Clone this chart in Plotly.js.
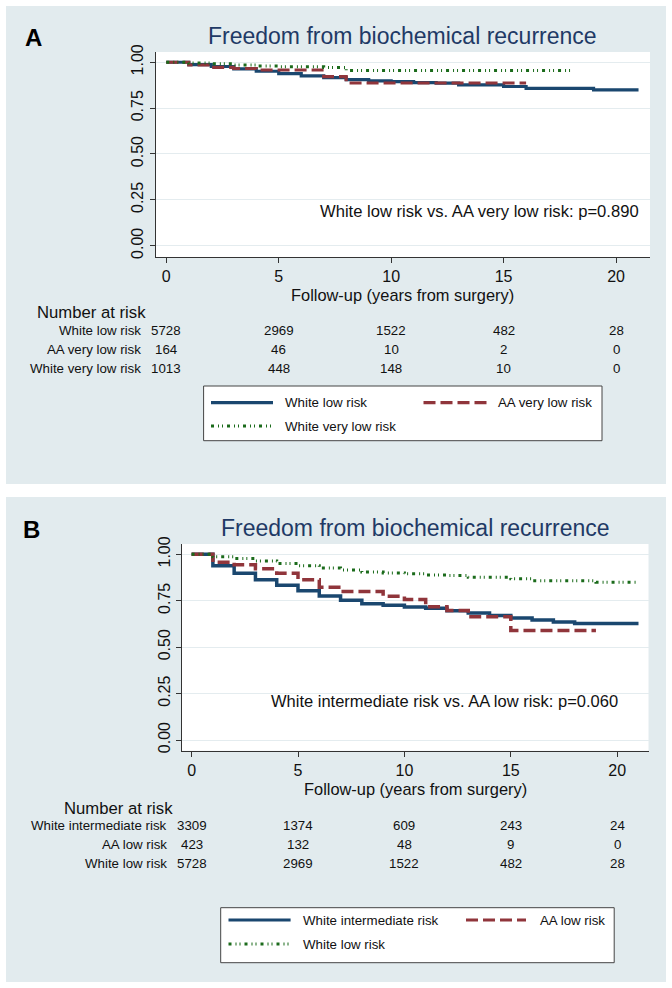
<!DOCTYPE html>
<html><head><meta charset="utf-8">
<script src="https://cdn.plot.ly/plotly-3.0.1.min.js"></script>
<style>html,body{margin:0;padding:0;background:#fff}</style>
</head><body><div id="chart" style="width:672px;height:988px"></div>
<script>
// ---------- Panel A data ----------
const tWhiteLow = [0,1,2,3,4,5,6,7,8,9,10,11,12,13,15,16,19,21];
const sWhiteLow = [1,0.987,0.977,0.964,0.951,0.938,0.926,0.916,0.905,0.899,0.895,0.889,0.886,0.877,0.868,0.858,0.849,0.849];
const tAAVeryLow = [0,1,2,3,4,7,8,16];
const sAAVeryLow = [1,0.985,0.972,0.966,0.958,0.922,0.887,0.887];
const tWhiteVeryLow = [0,1,2,3,4,5,7,8,18];
const sWhiteVeryLow = [1,0.996,0.992,0.985,0.98,0.976,0.971,0.955,0.955];

// ---------- Panel B data ----------
const tWhiteInter = [0,1,2,3,4,5,6,7,8,9,10,11,12,13,14,15,16,17,18,21];
const sWhiteInter = [1,0.939,0.898,0.863,0.833,0.804,0.775,0.752,0.734,0.725,0.716,0.709,0.696,0.684,0.671,0.657,0.646,0.635,0.628,0.628];
const tAALow = [0,1,2,3,4,5,6,7,9,10,11,12,13,15,19];
const sAALow = [1,0.957,0.944,0.922,0.898,0.863,0.822,0.80,0.774,0.756,0.717,0.698,0.664,0.59,0.59];
// White low risk (same cohort as panel A)
const tWhiteLowB = tWhiteLow;
const sWhiteLowB = sWhiteLow;

// ---------- Number at risk ----------
const riskTimes = [0,5,10,15,20];
const riskLabelsA = ['White low risk','AA very low risk','White very low risk'];
const riskA_whiteLow = [5728,2969,1522,482,28];
const riskA_aaVeryLow = [164,46,10,2,0];
const riskA_whiteVeryLow = [1013,448,148,10,0];
const riskLabelsB = ['White intermediate risk','AA low risk','White low risk'];
const riskB_whiteInter = [3309,1374,609,243,24];
const riskB_aaLow = [423,132,48,9,0];
const riskB_whiteLow = [5728,2969,1522,482,28];

const yTicks = [0,0.25,0.5,0.75,1];
const yTickText = ['0.00','0.25','0.50','0.75','1.00'];
const xTicks = [0,5,10,15,20];

const titleText = 'Freedom from biochemical recurrence';
const xTitleText = 'Follow-up (years from surgery)';
const pTextA = 'White low risk vs. AA very low risk: p=0.890';
const pTextB = 'White intermediate risk vs. AA low risk: p=0.060';

// ---------- styling ----------
const W = 672, H = 988;
const X = v => v / W, Y = v => 1 - v / H;
const FONT = 'Liberation Sans, Arial, Helvetica, sans-serif';
const NAVY = '#1a476f', MAROON = '#90353b', GREEN = '#1b6b1b';
const BG = '#e2ebee', GRID = '#e4ecef', TITLEC = '#1f3a66';
const DASH_M = '12px,5px';
const DASH_G = '3px,4px,1px,3px,1px,4px';

function step(x, y, color, width, dash, xa, ya) {
  return {x: x, y: y, type: 'scatter', mode: 'lines', xaxis: xa, yaxis: ya,
    line: {color: color, width: width, dash: dash, shape: 'hv'}, hoverinfo: 'skip', showlegend: false};
}

const traces = [
  step(tWhiteLow, sWhiteLow, NAVY, 3.2, 'solid', 'x', 'y'),
  step(tAAVeryLow, sAAVeryLow, MAROON, 3.2, DASH_M, 'x', 'y'),
  step(tWhiteVeryLow, sWhiteVeryLow, GREEN, 3, DASH_G, 'x', 'y'),
  step(tWhiteInter, sWhiteInter, NAVY, 3.5, 'solid', 'x2', 'y2'),
  step(tAALow, sAALow, MAROON, 3.5, DASH_M, 'x2', 'y2'),
  step(tWhiteLowB, sWhiteLowB, GREEN, 3, DASH_G, 'x2', 'y2')
];

function xax(dom, rng, anchor) {
  return {domain: dom, range: rng, anchor: anchor, tickvals: xTicks, ticks: 'outside', ticklen: 5,
    tickcolor: '#333', tickwidth: 1, showline: true, linecolor: '#333', linewidth: 1,
    showgrid: false, zeroline: false, tickfont: {family: FONT, size: 16, color: '#111'}, fixedrange: true};
}
function yax(dom, rng, anchor) {
  return {domain: dom, range: rng, anchor: anchor, tickvals: yTicks, ticktext: yTickText, tickangle: -90,
    ticks: 'outside', ticklen: 5, tickcolor: '#333', tickwidth: 1, showline: true, linecolor: '#333', linewidth: 1,
    showgrid: true, gridcolor: GRID, gridwidth: 1, zeroline: false,
    tickfont: {family: FONT, size: 16, color: '#111'}, fixedrange: true};
}

const shapes = [
  {type: 'rect', xref: 'paper', yref: 'paper', x0: X(6), x1: X(666), y0: Y(484), y1: Y(6), fillcolor: BG, line: {width: 0}, layer: 'below'},
  {type: 'rect', xref: 'paper', yref: 'paper', x0: X(6), x1: X(666), y0: Y(982), y1: Y(497), fillcolor: BG, line: {width: 0}, layer: 'below'},
  {type: 'rect', xref: 'paper', yref: 'paper', x0: X(155.6), x1: X(650), y0: Y(257), y1: Y(52), fillcolor: '#fff', line: {width: 0}, layer: 'below'},
  {type: 'rect', xref: 'paper', yref: 'paper', x0: X(182), x1: X(648.5), y0: Y(750.7), y1: Y(544), fillcolor: '#fff', line: {width: 0}, layer: 'below'},
  // legend boxes
  {type: 'rect', xref: 'paper', yref: 'paper', x0: X(203.6), x1: X(602), y0: Y(440.7), y1: Y(386), fillcolor: '#fff', line: {color: '#444', width: 1}},
  {type: 'rect', xref: 'paper', yref: 'paper', x0: X(220.7), x1: X(614.2), y0: Y(962.7), y1: Y(907.7), fillcolor: '#fff', line: {color: '#444', width: 1}}
];
function sample(x0, x1, y, color, width, dash) {
  shapes.push({type: 'line', xref: 'paper', yref: 'paper', x0: X(x0), x1: X(x1), y0: Y(y), y1: Y(y), line: {color: color, width: width, dash: dash}});
}
sample(211, 273, 402.7, NAVY, 3.2, 'solid');
sample(423.5, 486.5, 402.7, MAROON, 3.2, DASH_M);
sample(211, 273, 426, GREEN, 3, DASH_G);
sample(228.5, 290.6, 920, NAVY, 3.2, 'solid');
sample(466, 526, 920, MAROON, 3.2, DASH_M);
sample(228.5, 290.6, 944, GREEN, 3, DASH_G);

const ann = [];
function txt(text, x, y, size, opts) {
  ann.push(Object.assign({text: text, x: X(x), y: Y(y), xref: 'paper', yref: 'paper', showarrow: false,
    xanchor: 'left', yanchor: 'middle', font: {family: FONT, size: size, color: '#111'}}, opts || {}));
}
// panel letters
txt('<b>A</b>', 33, 37, 24, {xanchor: 'center', font: {family: FONT, size: 24, color: '#000'}});
txt('<b>B</b>', 31.5, 529.5, 24, {xanchor: 'center', font: {family: FONT, size: 24, color: '#000'}});
// titles
txt(titleText, 402.8, 36, 23, {xanchor: 'center', font: {family: FONT, size: 23, color: TITLEC}});
txt(titleText, 415.2, 527.7, 23, {xanchor: 'center', font: {family: FONT, size: 23, color: TITLEC}});
// x-axis titles
txt(xTitleText, 402.8, 295, 16.4, {xanchor: 'center'});
txt(xTitleText, 415.2, 789, 16.4, {xanchor: 'center'});
// p-value texts (data coords)
ann.push({text: pTextA, x: 21.1, y: 0.184, xref: 'x', yref: 'y', showarrow: false, xanchor: 'right', yanchor: 'middle',
  font: {family: FONT, size: 16.6, color: '#111'}});
ann.push({text: pTextB, x: 20.13, y: 0.21, xref: 'x2', yref: 'y2', showarrow: false, xanchor: 'right', yanchor: 'middle',
  font: {family: FONT, size: 16.5, color: '#111'}});

// number at risk tables
function riskTable(labels, rows, headY, headX, labelRight, rowYs, xref) {
  txt('Number at risk', headX, headY, 16.7);
  rows.forEach((vals, i) => {
    txt(labels[i], labelRight, rowYs[i], 13.3, {xanchor: 'right'});
    vals.forEach((v, j) => {
      ann.push({text: String(v), x: riskTimes[j], y: Y(rowYs[i]), xref: xref, yref: 'paper', showarrow: false,
        xanchor: 'center', yanchor: 'middle', font: {family: FONT, size: 13.3, color: '#111'}});
    });
  });
}
riskTable(riskLabelsA, [riskA_whiteLow, riskA_aaVeryLow, riskA_whiteVeryLow], 312.7, 35, 143, [330.3, 349, 368.7], 'x');
riskTable(riskLabelsB, [riskB_whiteInter, riskB_aaLow, riskB_whiteLow], 808.3, 62, 169, [825.7, 844.3, 863.3], 'x2');

// legend texts
txt('White low risk', 283, 402.7, 13.3);
txt('AA very low risk', 496, 402.7, 13.3);
txt('White very low risk', 283, 426, 13.3);
txt('White intermediate risk', 301, 920, 13.3);
txt('AA low risk', 538, 920, 13.3);
txt('White low risk', 301, 944, 13.3);

const layout = {
  width: W, height: H, margin: {l: 0, r: 0, t: 0, b: 0},
  paper_bgcolor: '#fff', plot_bgcolor: 'rgba(0,0,0,0)', showlegend: false,
  font: {family: FONT},
  xaxis: xax([X(155.6), X(650)], [-0.476, 21.51], 'y'),
  yaxis: yax([Y(257), Y(52)], [-0.0616, 1.056], 'x'),
  xaxis2: xax([X(182), X(648.5)], [-0.451, 21.47], 'y2'),
  yaxis2: yax([Y(750.7), Y(544)], [-0.0576, 1.0555], 'x2'),
  shapes: shapes, annotations: ann
};
Plotly.newPlot('chart', traces, layout, {staticPlot: true, displayModeBar: false});
</script></body></html>
